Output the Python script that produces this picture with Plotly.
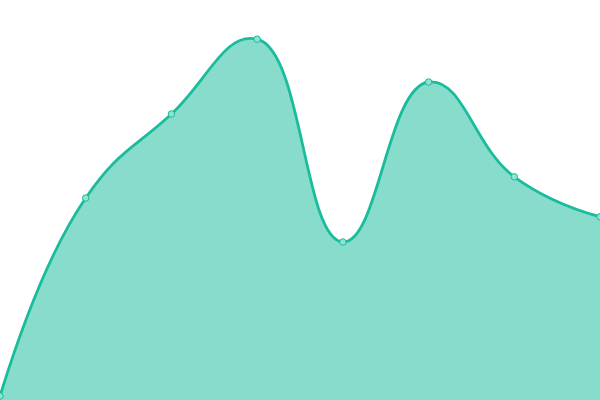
import plotly.graph_objects as go

# data
x_vals = [0, 1, 2, 3, 4, 5, 6, 7]
y_vals = [1, 50.5, 71.5, 90.2, 39.5, 79.5, 55.8, 45.8]

line_color = '#1abc9c'
fill_color = 'rgba(26,188,156,0.52)'

fig = go.Figure()
fig.add_trace(go.Scatter(
    x=x_vals,
    y=y_vals,
    mode='lines+markers',
    line=dict(color=line_color, width=2.8, shape='spline', smoothing=1.3),
    fill='tozeroy',
    fillcolor=fill_color,
    marker=dict(size=6.5, color='#8fe3d2', line=dict(color=line_color, width=1)),
    hoverinfo='skip',
    showlegend=False,
))

fig.update_layout(
    width=600,
    height=400,
    margin=dict(l=0, r=0, t=0, b=0),
    paper_bgcolor='white',
    plot_bgcolor='white',
    xaxis=dict(range=[0, 7], visible=False, fixedrange=True),
    yaxis=dict(range=[0, 100], visible=False, fixedrange=True),
)

# drop the default page margin so the chart sits flush in the window
fig.write_html("out.html", post_script="document.body.style.margin='0';",
               config={'displayModeBar': False})
